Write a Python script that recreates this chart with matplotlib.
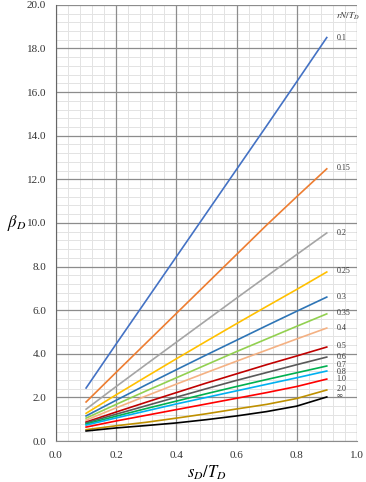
import matplotlib
matplotlib.use("Agg")
import numpy as np
import matplotlib.pyplot as plt
from matplotlib.ticker import MultipleLocator, FormatStrFormatter

plt.rcParams['font.family'] = ['Liberation Serif', 'DejaVu Serif']
plt.rcParams['mathtext.fontset'] = 'stix'

# data
s_ratio = [0.1, 0.2, 0.3, 0.4, 0.5, 0.6, 0.7, 0.8, 0.9]

curve_labels = ['0.1', '0.15', '0.2', '0.25', '0.3', '0.35', '0.4',
                '0.5', '0.6', '0.7', '0.8', '1.0', '2.0', '∞']

beta_01 = [2.43, 4.45, 6.45, 8.45, 10.45, 12.45, 14.45, 16.47, 18.5]
beta_015 = [1.79, 3.15, 4.5, 5.85, 7.2, 8.55, 9.9, 11.2, 12.48]
beta_02 = [1.46, 2.5, 3.52, 4.53, 5.54, 6.55, 7.55, 8.55, 9.54]
beta_025 = [1.27, 2.12, 2.95, 3.77, 4.58, 5.38, 6.17, 6.95, 7.75]
beta_03 = [1.15, 1.87, 2.58, 3.27, 3.95, 4.62, 5.29, 5.95, 6.6]
beta_035 = [1.05, 1.68, 2.3, 2.9, 3.5, 4.1, 4.68, 5.26, 5.83]
beta_04 = [0.96, 1.52, 2.07, 2.61, 3.14, 3.66, 4.17, 4.68, 5.18]
beta_05 = [0.87, 1.33, 1.78, 2.22, 2.66, 3.08, 3.5, 3.9, 4.31]
beta_06 = [0.83, 1.23, 1.62, 2.01, 2.4, 2.78, 3.14, 3.5, 3.85]
beta_07 = [0.78, 1.14, 1.49, 1.83, 2.17, 2.5, 2.82, 3.13, 3.44]
beta_08 = [0.73, 1.06, 1.38, 1.7, 2.0, 2.3, 2.6, 2.9, 3.21]
beta_10 = [0.64, 0.92, 1.18, 1.44, 1.7, 1.96, 2.22, 2.5, 2.84]
beta_20 = [0.52, 0.7, 0.86, 1.05, 1.25, 1.47, 1.68, 1.95, 2.34]
beta_inf = [0.46, 0.6, 0.71, 0.83, 0.98, 1.15, 1.35, 1.6, 2.02]

all_curves = [beta_01, beta_015, beta_02, beta_025, beta_03, beta_035, beta_04,
              beta_05, beta_06, beta_07, beta_08, beta_10, beta_20, beta_inf]

colors = ['#4472C4', '#ED7D31', '#A5A5A5', '#FFC000', '#2E75B6', '#92D050',
          '#F4B183', '#C00000', '#595959', '#00B050', '#00B0F0', '#FF0000',
          '#BF9000', '#000000']

# label heights (slightly spread out so they don't overlap)
label_y = [18.5, 12.5, 9.55, 7.8, 6.6, 5.85, 5.2, 4.35, 3.85, 3.5, 3.15,
           2.85, 2.4, 2.05]

fig = plt.figure(figsize=(3.66, 4.82), dpi=100)
ax = fig.add_axes([0.153, 0.085, 0.822, 0.905])

# light minor grid drawn underneath the major one
for xv in np.arange(0.04, 1.0, 0.04):
    ax.axvline(xv, color='#e3e3e3', linewidth=0.7, zorder=0.1)
for yv in np.arange(0.4, 20.0, 0.4):
    ax.axhline(yv, color='#e3e3e3', linewidth=0.7, zorder=0.1)

for ys, c in zip(all_curves, colors):
    ax.plot(s_ratio, ys, color=c, linewidth=1.2, zorder=3)

for lab, ly in zip(curve_labels, label_y):
    ax.text(0.932, ly, lab, fontsize=5.8, va='center', ha='left', color='#333333')

ax.text(0.93, 19.45, r'$rN/T_D$', fontsize=6.5, va='center', ha='left', color='#333333')

ax.set_xlim(0, 1.0)
ax.set_ylim(0, 20)
ax.xaxis.set_major_locator(MultipleLocator(0.2))
ax.yaxis.set_major_locator(MultipleLocator(2.0))
ax.xaxis.set_major_formatter(FormatStrFormatter('%.1f'))
ax.yaxis.set_major_formatter(FormatStrFormatter('%.1f'))

ax.grid(which='major', color='#8c8c8c', linewidth=0.9, zorder=1)
ax.set_axisbelow(True)
ax.tick_params(which='both', length=0, labelsize=8, colors='#333333', pad=7)

for side in ['top', 'right']:
    ax.spines[side].set_visible(False)
ax.spines['left'].set_color('#666666')
ax.spines['bottom'].set_color('#8c8c8c')

ax.set_xlabel(r'$s_D/T_D$', fontsize=12, labelpad=3)
ax.set_ylabel(r'$\beta_D$', fontsize=12, rotation=0, va='center')
ax.yaxis.set_label_coords(-0.13, 0.5)

fig.savefig('out.png', dpi=100)
